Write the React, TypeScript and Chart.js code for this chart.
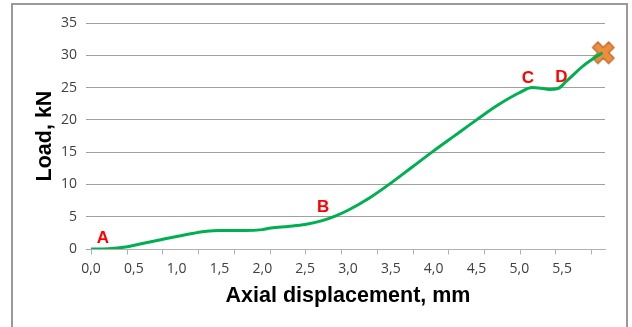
import React, { useEffect, useRef } from "react";
import { Chart, registerables } from "chart.js";

Chart.register(...registerables);

// Data
const dispX = [0, 0.2, 0.4, 0.6, 0.8, 1.0, 1.2, 1.35, 1.5, 1.8, 2.0, 2.1, 2.3, 2.5, 2.7, 2.85, 3.0, 3.25, 3.5, 3.75, 4.0, 4.25, 4.5, 4.75, 5.0, 5.15, 5.25, 5.35, 5.45, 5.55, 5.75, 5.97];
const loadY = [0, 0.05, 0.3, 0.85, 1.4, 1.95, 2.45, 2.75, 2.85, 2.85, 3.0, 3.25, 3.5, 3.8, 4.4, 5.1, 6.0, 7.9, 10.2, 12.7, 15.2, 17.6, 20.0, 22.3, 24.2, 25.0, 24.9, 24.7, 24.85, 26.0, 28.4, 30.4];
const failureX = [5.98];
const failureY = [30.4];
const pointLabels = ["A", "B", "C", "D"];
const pointLabelX = [0.14, 2.71, 5.1, 5.49];
const pointLabelY = [1.7, 6.5, 26.4, 26.55];
const xTickLabelsMax = 6; // labels 0,0 .. 5,5
const yMax = 35;
const TICK_MARK_STEP = 0.417;

function makeCrossImage(): HTMLCanvasElement {
  const c = document.createElement("canvas");
  c.width = 26;
  c.height = 26;
  const ctx = c.getContext("2d")!;
  ctx.translate(13, 13);
  ctx.rotate(Math.PI / 4);
  const w = 3.8;
  const L = 11.4;
  ctx.beginPath();
  ctx.moveTo(-w, -L);
  ctx.lineTo(w, -L);
  ctx.lineTo(w, -w);
  ctx.lineTo(L, -w);
  ctx.lineTo(L, w);
  ctx.lineTo(w, w);
  ctx.lineTo(w, L);
  ctx.lineTo(-w, L);
  ctx.lineTo(-w, w);
  ctx.lineTo(-L, w);
  ctx.lineTo(-L, -w);
  ctx.lineTo(-w, -w);
  ctx.closePath();
  ctx.fillStyle = "#ef8d3d";
  ctx.fill();
  ctx.lineWidth = 1.3;
  ctx.strokeStyle = "#b8692a";
  ctx.stroke();
  return c;
}

const overlayPlugin = {
  id: "overlay",
  afterDraw(chart: any) {
    const { ctx, scales } = chart;
    const xs = scales.x;
    const ys = scales.y;
    ctx.save();
    // x tick marks
    ctx.strokeStyle = "#b0b0b0";
    ctx.lineWidth = 1;
    const y0 = Math.round(ys.getPixelForValue(0)) + 0.5;
    for (let v = 0; v <= xs.max + 1e-9; v += TICK_MARK_STEP) {
      const px = Math.round(xs.getPixelForValue(v)) + 0.5;
      ctx.beginPath();
      ctx.moveTo(px, y0);
      ctx.lineTo(px, y0 + 5);
      ctx.stroke();
    }
    // point labels
    ctx.fillStyle = "#ff0000";
    ctx.font = "bold 17px 'Liberation Sans', Arial, sans-serif";
    ctx.textAlign = "center";
    ctx.textBaseline = "middle";
    pointLabels.forEach((t, i) => {
      ctx.fillText(t, xs.getPixelForValue(pointLabelX[i]), ys.getPixelForValue(pointLabelY[i]));
    });
    ctx.restore();
  },
};

export default function App() {
  const ref = useRef<HTMLCanvasElement | null>(null);
  useEffect(() => {
    document.body.style.margin = "0";
    const cross = makeCrossImage();
    const chart = new Chart(ref.current!, {
      type: "scatter",
      data: {
        datasets: [
          {
            data: dispX.map((x, i) => ({ x, y: loadY[i] })),
            showLine: true,
            borderColor: "#00b050",
            borderWidth: 3,
            pointRadius: 0,
            cubicInterpolationMode: "monotone",
          } as any,
          {
            data: failureX.map((x, i) => ({ x, y: failureY[i] })),
            pointStyle: cross as any,
            pointRadius: 12,
            clip: false,
          } as any,
        ],
      },
      options: {
        animation: false,
        responsive: false,
        devicePixelRatio: 1,
        layout: { padding: { left: 28, right: 27, top: 23, bottom: 14 } },
        plugins: { legend: { display: false }, tooltip: { enabled: false } },
        scales: {
          x: {
            type: "linear",
            min: 0,
            max: xTickLabelsMax,
            afterFit: (s: any) => {
              s.height = 64;
            },
            ticks: {
              stepSize: 0.5,
              autoSkip: false,
              maxRotation: 0,
              padding: 12,
              color: "#404040",
              font: { family: "'Open Sans', sans-serif", size: 14 },
              callback: (v: any) => (Number(v) >= xTickLabelsMax - 1e-9 ? "" : Number(v).toFixed(1).replace(".", ",")),
            },
            grid: { display: false, drawTicks: false },
            border: { display: true, color: "#b0b0b0", width: 1 },
            title: {
              display: true,
              text: "Axial displacement, mm",
              color: "#000000",
              font: { family: "'Liberation Sans', Arial, sans-serif", size: 21.5, weight: "bold" },
            },
          },
          y: {
            min: 0,
            max: yMax,
            afterFit: (s: any) => {
              s.width = 63;
            },
            ticks: {
              stepSize: 5,
              padding: 9,
              color: "#404040",
              font: { family: "'Open Sans', sans-serif", size: 14 },
            },
            grid: { color: "#a0a0a0", lineWidth: 1, tickLength: 5, drawTicks: true },
            border: { display: false },
            title: {
              display: true,
              text: "Load, kN",
              color: "#000000",
              font: { family: "'Liberation Sans', Arial, sans-serif", size: 21.5, weight: "bold" },
            },
          },
        },
      },
      plugins: [overlayPlugin],
    });
    return () => chart.destroy();
  }, []);
  return (
    <div style={{ position: "relative", width: 632, height: 327, overflow: "hidden", background: "#fff" }}>
      <div
        style={{
          position: "absolute",
          left: 11,
          top: 3,
          width: 617,
          height: 340,
          border: "2px solid #9a9a9a",
          boxSizing: "border-box",
        }}
      />
      <canvas ref={ref} width={632} height={327} style={{ position: "absolute", left: 0, top: 0 }} />
    </div>
  );
}
